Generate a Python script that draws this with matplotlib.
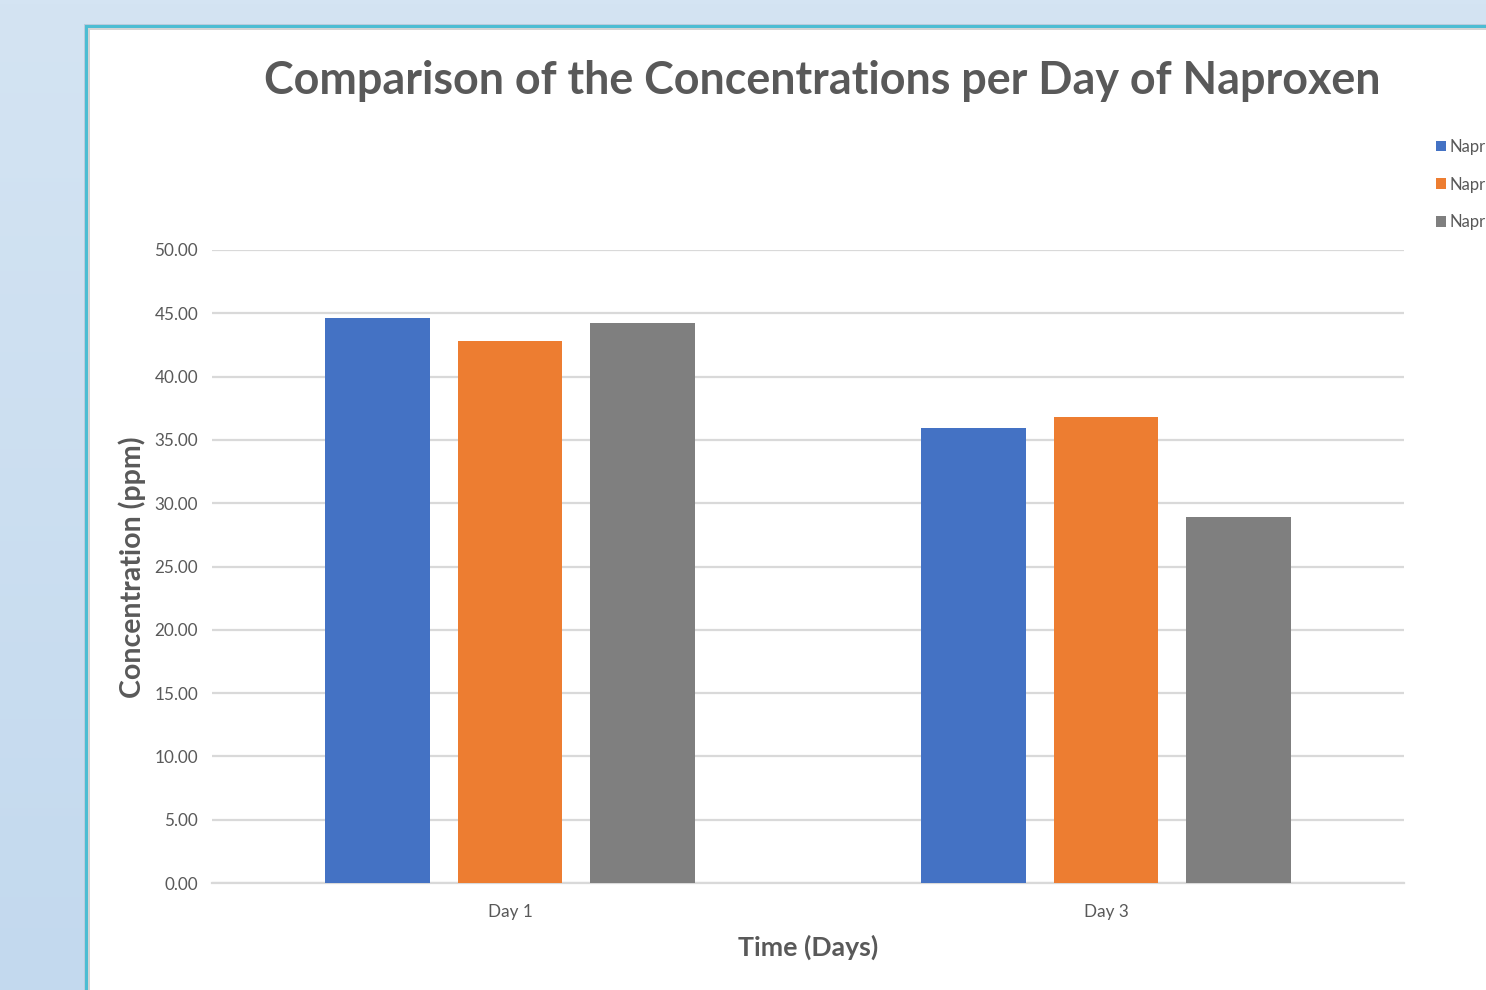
import numpy as np
import matplotlib
matplotlib.use("Agg")
import matplotlib.pyplot as plt
from matplotlib.patches import Rectangle

# Data
categories = ["Day 1", "Day 3"]
series_names = ["Napr", "Napr", "Napr"]
series_values = [
    [44.60, 35.95],
    [42.80, 36.80],
    [44.25, 28.90],
]
series_colors = ["#4472c4", "#ed7d31", "#7f7f7f"]
y_ticks = [0, 5, 10, 15, 20, 25, 30, 35, 40, 45, 50]

W, H = 1486, 990
fig = plt.figure(figsize=(W / 100, H / 100), dpi=100)

# Window background: soft blue gradient
bg = fig.add_axes([0, 0, 1, 1], zorder=-10)
grad = np.linspace(0, 1, 256).reshape(-1, 1)
bg.imshow(grad, aspect="auto", extent=[0, 1, 0, 1],
          cmap=matplotlib.colors.LinearSegmentedColormap.from_list(
              "bgc", ["#c3d9ee", "#d4e4f3"]), origin="lower")
bg.set_xlim(0, 1); bg.set_ylim(0, 1); bg.axis("off")


def frame_rect(x, y, color, z):
    """Rectangle from pixel corner (x, y) to beyond the bottom-right edge."""
    fig.patches.append(Rectangle((x / W, -0.05), (W - x + 20) / W, (H - y) / H + 0.05,
                                 transform=fig.transFigure, facecolor=color,
                                 edgecolor="none", zorder=z))


# Chart frame: faint shadow, teal border, grey inner line, white area
frame_rect(84, 24, "#b9cbdc", -5)
frame_rect(85, 25, "#4dbdd3", -4)
frame_rect(88, 28, "#d4d4d4", -3)
frame_rect(90, 30, "white", -2)

# Plot area
left, right, top, bottom = 212, 1404, 250, 883
ax = fig.add_axes([left / W, 1 - bottom / H, (right - left) / W, (bottom - top) / H])
ax.set_facecolor("none")

x = np.arange(len(categories))
bar_w = 0.176
step = 0.223
bars = []
for i, (vals, col, name) in enumerate(zip(series_values, series_colors, series_names)):
    b = ax.bar(x + (i - 1) * step, vals, width=bar_w, color=col, label=name, zorder=3)
    bars.append(b)

ax.set_xlim(-0.5, 1.5)
ax.set_ylim(0, 50)
ax.set_yticks(y_ticks)
ax.set_yticklabels([f"{v:.2f}" for v in y_ticks])
ax.set_xticks(x)
ax.set_xticklabels(categories)
ax.yaxis.grid(True, color="#d9d9d9", linewidth=1.6, zorder=0)
ax.set_axisbelow(True)
for s in ["top", "right", "left"]:
    ax.spines[s].set_visible(False)
ax.spines["bottom"].set_color("#d9d9d9")
ax.spines["bottom"].set_linewidth(1.6)
ax.tick_params(axis="both", length=0, labelcolor="#595959", labelsize=12.3,
               labelfontfamily="Lato")
ax.tick_params(axis="y", pad=10)
ax.tick_params(axis="x", pad=15)

fig.text(822 / W, 1 - 81 / H, "Comparison of the Concentrations per Day of Naproxen",
         ha="center", va="center", fontsize=32.3, fontweight="bold",
         color="#595959", family="Lato")
fig.text(132 / W, 1 - 567 / H, "Concentration (ppm)", rotation=90,
         ha="center", va="center", fontsize=20.5, fontweight="bold",
         color="#595959", family="Lato")
fig.text(808 / W, 1 - 947 / H, "Time (Days)", ha="center", va="center",
         fontsize=19.2, fontweight="bold", color="#595959", family="Lato")

leg = fig.legend(handles=bars, labels=series_names, loc="upper left",
                 bbox_to_anchor=(1436 / W, 1 - 139 / H), frameon=False,
                 handlelength=0.6, handleheight=0.6, handletextpad=0.2,
                 labelspacing=1.3, borderpad=0, borderaxespad=0,
                 prop={"family": "Lato", "size": 12})
for t in leg.get_texts():
    t.set_color("#595959")

fig.savefig("out.png", dpi=100)
